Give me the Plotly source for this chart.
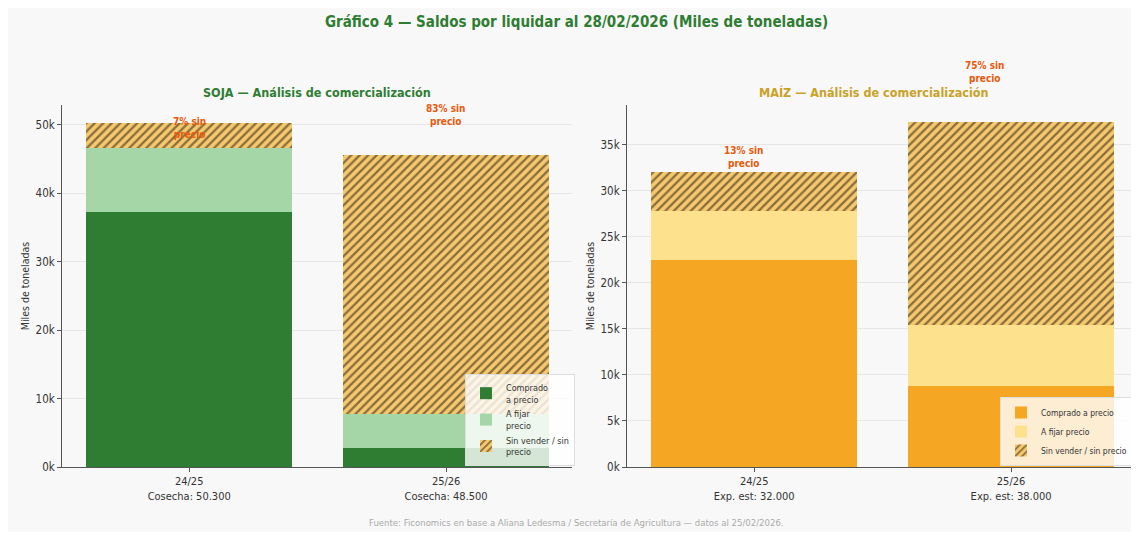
import plotly.graph_objects as go

# ---------------- data (miles de toneladas) ----------------
campanias = ["24/25", "25/26"]
soja_produccion = ["Cosecha: 50.300", "Cosecha: 48.500"]
maiz_produccion = ["Exp. est: 32.000", "Exp. est: 38.000"]

soja_comprado = [37300, 2800]
soja_fijar = [9300, 5000]
soja_sin = [3700, 37800]
soja_pct_label = ["7% sin<br>precio", "83% sin<br>precio"]

maiz_comprado = [22500, 8800]
maiz_fijar = [5300, 6600]
maiz_sin = [4200, 22100]
maiz_pct_label = ["13% sin<br>precio", "75% sin<br>precio"]

soja_ticks = [0, 10000, 20000, 30000, 40000, 50000]
soja_ticktext = ["0k", "10k", "20k", "30k", "40k", "50k"]
maiz_ticks = [0, 5000, 10000, 15000, 20000, 25000, 30000, 35000]
maiz_ticktext = ["0k", "5k", "10k", "15k", "20k", "25k", "30k", "35k"]

# ---------------- styles ----------------
FONT = "DejaVu Sans Condensed"
GREEN_D = "#2e7d32"
GREEN_L = "#a5d6a7"
ORANGE = "#f5a623"
YELLOW_L = "#fde18c"
HATCH_BG = "#f7c96f"
HATCH_FG = "#1a1208"
LABEL_COL = "#e8590c"
PANEL = "#f8f8f8"
TXT = "#333333"

xpos = list(range(len(campanias)))
fig = go.Figure()


def add_stack(xaxis, yaxis, legend, comp, fij, sin, c_comp, c_fij, names):
    fig.add_trace(go.Bar(x=xpos, y=comp, width=0.8, name=names[0], marker=dict(color=c_comp, line=dict(width=0)),
                         xaxis=xaxis, yaxis=yaxis, legend=legend))
    fig.add_trace(go.Bar(x=xpos, y=fij, width=0.8, name=names[1], marker=dict(color=c_fij, line=dict(width=0)),
                         xaxis=xaxis, yaxis=yaxis, legend=legend))
    fig.add_trace(go.Bar(x=xpos, y=sin, width=0.8, name=names[2],
                         marker=dict(color=HATCH_BG, line=dict(width=0),
                                     pattern=dict(shape="/", fgcolor=HATCH_FG, bgcolor=HATCH_BG,
                                                  size=6, solidity=0.38, fillmode="overlay")),
                         xaxis=xaxis, yaxis=yaxis, legend=legend))


add_stack("x", "y", "legend", soja_comprado, soja_fijar, soja_sin, GREEN_D, GREEN_L,
          ["Comprado<br>a precio", "A fijar<br>precio", "Sin vender / sin<br>precio"])
add_stack("x2", "y2", "legend2", maiz_comprado, maiz_fijar, maiz_sin, ORANGE, YELLOW_L,
          ["Comprado a precio", "A fijar precio", "Sin vender / sin precio"])

soja_tot = [a + b + c for a, b, c in zip(soja_comprado, soja_fijar, soja_sin)]
maiz_tot = [a + b + c for a, b, c in zip(maiz_comprado, maiz_fijar, maiz_sin)]

annotations = []
soja_shift = [-5, 40]
soja_dx = [0, 0]
for i, t in enumerate(soja_tot):
    annotations.append(dict(x=xpos[i], y=t, xref="x", yref="y", text=f"<b>{soja_pct_label[i]}</b>",
                            showarrow=False, yshift=soja_shift[i], xshift=soja_dx[i], xanchor="center",
                            font=dict(family=FONT, size=10, color=LABEL_COL), yanchor="middle"))
maiz_shift = [15, 50]
maiz_dx = [-10, -26]
for i, t in enumerate(maiz_tot):
    annotations.append(dict(x=xpos[i], y=t, xref="x2", yref="y2", text=f"<b>{maiz_pct_label[i]}</b>",
                            showarrow=False, yshift=maiz_shift[i], xshift=maiz_dx[i], xanchor="center",
                            font=dict(family=FONT, size=10, color=LABEL_COL), yanchor="middle"))

annotations += [
    dict(x=0.503, y=0.9733, xref="paper", yref="paper", showarrow=False, xanchor="center", yanchor="middle",
         text="<b>Gráfico 4 — Saldos por liquidar al 28/02/2026 (Miles de toneladas)</b>",
         font=dict(family=FONT, size=15, color=GREEN_D)),
    dict(x=0.2733, y=0.8378, xref="paper", yref="paper", showarrow=False, xanchor="center", yanchor="middle",
         text="<b>SOJA — Análisis de comercialización</b>",
         font=dict(family=FONT, size=12.5, color=GREEN_D)),
    dict(x=0.7657, y=0.8378, xref="paper", yref="paper", showarrow=False, xanchor="center", yanchor="middle",
         text="<b>MAÍZ — Análisis de comercialización</b>",
         font=dict(family=FONT, size=12.5, color="#c9a227")),
    dict(x=0.503, y=0.019, xref="paper", yref="paper", showarrow=False, xanchor="center", yanchor="middle",
         text="Fuente: Ficonomics en base a Aliana Ledesma / Secretaría de Agricultura — datos al 25/02/2026.",
         font=dict(family=FONT, size=9.5, color="#aaaaaa")),
]

axis_common = dict(showline=True, linecolor="#555555", linewidth=1, ticks="outside", ticklen=4,
                   tickcolor="#555555", zeroline=False, automargin=False)
ytitle = dict(text="Miles de toneladas", font=dict(family=FONT, size=10.5, color=TXT), standoff=3)

fig.update_layout(
    width=1131, height=524,
    margin=dict(l=0, r=0, t=0, b=0, autoexpand=False),
    paper_bgcolor=PANEL, plot_bgcolor=PANEL,
    barmode="stack", bargap=0,
    font=dict(family=FONT, color=TXT),
    annotations=annotations,
    xaxis=dict(domain=[0.04775, 0.4987], range=[-0.495, 1.49], tickvals=xpos,
               ticktext=[f"{c}<br>{p}" for c, p in zip(campanias, soja_produccion)],
               showgrid=False, tickfont=dict(family=FONT, size=11, color=TXT), **axis_common),
    yaxis=dict(domain=[0.124, 0.8149], range=[0, 52900], tickvals=soja_ticks, ticktext=soja_ticktext,
               showgrid=True, gridcolor="#e6e6e6", gridwidth=1, title=ytitle,
               tickfont=dict(family=FONT, size=11.5, color=TXT), **axis_common),
    xaxis2=dict(domain=[0.5473, 0.9982], range=[-0.495, 1.49], tickvals=xpos,
                ticktext=[f"{c}<br>{p}" for c, p in zip(campanias, maiz_produccion)],
                showgrid=False, anchor="y2", tickfont=dict(family=FONT, size=11, color=TXT), **axis_common),
    yaxis2=dict(domain=[0.124, 0.8149], range=[0, 39300], tickvals=maiz_ticks, ticktext=maiz_ticktext,
                anchor="x2", showgrid=True, gridcolor="#e6e6e6", gridwidth=1, title=ytitle,
                tickfont=dict(family=FONT, size=11.5, color=TXT), **axis_common),
    legend=dict(x=0.5013, xanchor="right", y=0.126, yanchor="bottom", bgcolor="rgba(255,255,255,0.8)",
                bordercolor="#dddddd", borderwidth=1, font=dict(family=FONT, size=9, color=TXT),
                traceorder="normal", tracegroupgap=0, itemwidth=30),
    legend2=dict(x=0.9947, xanchor="right", y=0.126, yanchor="bottom", bgcolor="rgba(255,255,255,0.8)",
                 bordercolor="#dddddd", borderwidth=1, font=dict(family=FONT, size=8.5, color=TXT),
                 traceorder="normal", tracegroupgap=0, itemwidth=30),
)

fig.write_html("out.html")
